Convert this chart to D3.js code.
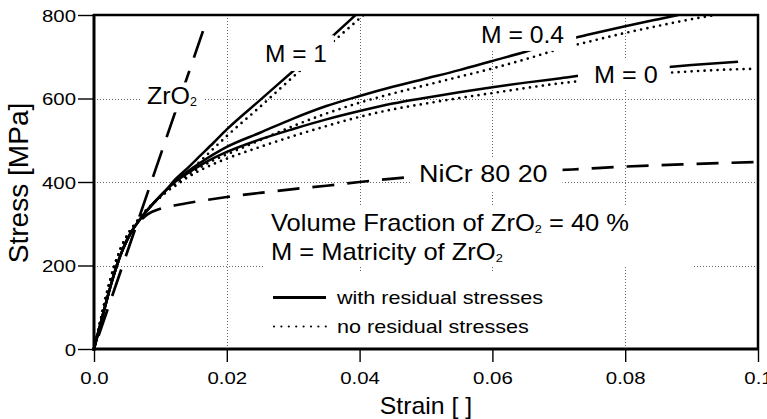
<!DOCTYPE html>
<html><head><meta charset="utf-8">
<script src="https://cdn.jsdelivr.net/npm/d3@7"></script>
<style>
body{margin:0;background:#fff}
svg{display:block}
text{font-family:"Liberation Sans",Arial,Helvetica,sans-serif;fill:#000}
</style>
</head><body>
<svg id="chart" width="767" height="419"></svg>
<script>
// ---------- data ----------
const xTicks = [0, 0.02, 0.04, 0.06, 0.08, 0.1];
const xTickLabels = ["0.0", "0.02", "0.04", "0.06", "0.08", "0.1"];
const yTicks = [0, 200, 400, 600, 800];
const yTickLabels = ["0", "200", "400", "600", "800"];
const xGrid = [0.02, 0.04, 0.06, 0.08];
const yGrid = [200, 400, 600];

// shared elastic range of the composite curves
const elasticStrain = [0, 0.001, 0.002, 0.003, 0.004, 0.005, 0.006, 0.007, 0.008, 0.009, 0.010, 0.011];
const elasticWith   = [0, 62, 122, 178, 225, 262, 290, 312, 332, 350, 367, 383];
const elasticNo     = [0, 70, 138, 196, 240, 272, 296, 316, 334, 350, 364, 378];

// M = 1
const m1WithStrain = [...elasticStrain, 0.012, 0.014, 0.016, 0.018, 0.02, 0.025, 0.03, 0.035, 0.0394];
const m1WithStress = [...elasticWith, 402, 432, 463, 494, 526, 596, 666, 736, 800];
const m1NoStrain   = [...elasticStrain, 0.012, 0.014, 0.016, 0.018, 0.02, 0.025, 0.03, 0.035, 0.0406];
const m1NoStress   = [...elasticNo, 392, 420, 450, 480, 510, 580, 652, 722, 800];

// M = 0.4
const m04WithStrain = [...elasticStrain, 0.012, 0.014, 0.016, 0.018, 0.02, 0.025, 0.03, 0.035, 0.04, 0.045, 0.05, 0.055, 0.06, 0.065, 0.07, 0.075, 0.08, 0.085, 0.088];
const m04WithStress = [...elasticWith, 398, 424, 446, 466, 484, 518, 552, 582, 606, 628, 648, 668, 690, 712, 736, 755, 773, 790, 800];
const m04NoStrain   = [...elasticStrain, 0.012, 0.014, 0.016, 0.018, 0.02, 0.025, 0.03, 0.035, 0.04, 0.045, 0.05, 0.055, 0.06, 0.065, 0.07, 0.075, 0.08, 0.085, 0.09, 0.0936];
const m04NoStress   = [...elasticNo, 392, 415, 435, 452, 466, 500, 534, 564, 590, 612, 632, 652, 672, 694, 718, 738, 757, 774, 790, 800];

// M = 0
const m0WithStrain = [...elasticStrain, 0.012, 0.014, 0.016, 0.018, 0.02, 0.025, 0.03, 0.035, 0.04, 0.045, 0.05, 0.055, 0.06, 0.065, 0.07, 0.075, 0.08, 0.085, 0.09, 0.097];
const m0WithStress = [...elasticWith, 398, 420, 440, 457, 472, 502, 527, 550, 570, 588, 602, 615, 627, 638, 648, 658, 666, 673, 680, 688];
const m0NoStrain   = [...elasticStrain, 0.012, 0.014, 0.016, 0.018, 0.02, 0.025, 0.03, 0.035, 0.04, 0.045, 0.05, 0.055, 0.06, 0.065, 0.07, 0.075, 0.08, 0.085, 0.09, 0.095, 0.099];
const m0NoStress   = [...elasticNo, 388, 410, 428, 443, 456, 484, 510, 534, 556, 574, 588, 601, 613, 625, 636, 645, 653, 660, 665, 669, 671];

// pure phases
const nicrStrain = [0, 0.001, 0.002, 0.003, 0.004, 0.005, 0.006, 0.007, 0.008, 0.01, 0.0125, 0.015, 0.02, 0.025, 0.03, 0.035, 0.04, 0.048, 0.06, 0.072, 0.08, 0.09, 0.1];
const nicrStress = [0, 62, 122, 178, 225, 262, 290, 308, 322, 336, 345, 352, 364, 374, 383, 391, 400, 412, 422, 430, 437, 443, 448];
const zro2Strain = [0, 0.0166];
const zro2Stress = [0, 770];

// ---------- layout ----------
const svg = d3.select("#chart");
const x = d3.scaleLinear().domain([0, 0.1]).range([94, 758]);
const y = d3.scaleLinear().domain([0, 800]).range([349, 15]);

const zip = (a, b) => a.map((v, i) => [v, b[i]]);
const line = d3.line().x(d => x(d[0])).y(d => y(d[1])).curve(d3.curveMonotoneX);

svg.append("defs").append("clipPath").attr("id", "plot")
  .append("rect").attr("x", 94).attr("y", 15).attr("width", 664).attr("height", 334);

// grid
const grid = svg.append("g").attr("stroke", "#666").attr("stroke-width", 1).attr("stroke-dasharray", "1 2");
grid.selectAll(".gx").data(xGrid).join("line")
  .attr("x1", d => Math.round(x(d)) + 0.5).attr("x2", d => Math.round(x(d)) + 0.5)
  .attr("y1", y(800)).attr("y2", y(0));
grid.selectAll(".gy").data(yGrid).join("line")
  .attr("y1", d => Math.round(y(d)) + 0.5).attr("y2", d => Math.round(y(d)) + 0.5)
  .attr("x1", x(0)).attr("x2", x(0.1));

// curves
const curves = svg.append("g").attr("clip-path", "url(#plot)").attr("fill", "none").attr("stroke", "#000");
const solid = s => s.attr("stroke-width", 2.5);
const dotted = s => s.attr("stroke-width", 2.7).attr("stroke-linecap", "round").attr("stroke-dasharray", "0 6.5");

curves.append("path").datum(zip(zro2Strain, zro2Stress)).attr("d", line)
  .attr("stroke-width", 2.7).attr("stroke-dasharray", "28 14").attr("stroke-dashoffset", 28);
curves.append("path").datum(zip(nicrStrain, nicrStress)).attr("d", line)
  .attr("stroke-width", 2.7).attr("stroke-dasharray", "22 13");

curves.append("path").datum(zip(m1WithStrain, m1WithStress)).attr("d", line).call(solid);
curves.append("path").datum(zip(m04WithStrain, m04WithStress)).attr("d", line).call(solid);
curves.append("path").datum(zip(m0WithStrain, m0WithStress)).attr("d", line).call(solid);
curves.append("path").datum(zip(m1NoStrain, m1NoStress)).attr("d", line).call(dotted);
curves.append("path").datum(zip(m04NoStrain, m04NoStress)).attr("d", line).call(dotted);
curves.append("path").datum(zip(m0NoStrain, m0NoStress)).attr("d", line).call(dotted);

// white panels behind the description and the legend
svg.append("rect").attr("x", 265).attr("y", 205).attr("width", 428).attr("height", 62).attr("fill", "#fff");
svg.append("rect").attr("x", 262).attr("y", 272).attr("width", 300).attr("height", 75).attr("fill", "#fff");

// text (slightly widened glyphs) with an optional small subscript "2"
function label(g, px, py, parts, size, sx, anchor) {
  const t = g.append("text").attr("font-size", size)
    .attr("text-anchor", anchor || "start")
    .attr("transform", `translate(${px},${py}) scale(${sx},1)`);
  parts.forEach(p => {
    if (p.sub) {
      t.append("tspan").text(p.sub).attr("font-size", size * 0.5).attr("dy", size * 0.1);
    } else {
      const ts = t.append("tspan").text(p.t);
      if (p.after) ts.attr("dy", -size * 0.1);
    }
  });
  return t;
}
// label on a white patch that interrupts the lines below it; pad = [left, right, top, bottom]
function boxedLabel(px, py, parts, size, sx, pad) {
  const g = svg.append("g");
  const bg = g.append("rect").attr("fill", "#fff");
  const t = label(g, px, py, parts, size, sx);
  const b = t.node().getBBox();
  bg.attr("x", px + b.x * sx - pad[0]).attr("y", py + b.y - pad[2])
    .attr("width", b.width * sx + pad[0] + pad[1]).attr("height", b.height + pad[2] + pad[3]);
}

boxedLabel(147, 104, [{t: "ZrO"}, {sub: "2"}], 24, 1.04, [5, 6, 0, 3]);
boxedLabel(265, 62, [{t: "M = 1"}], 24, 1.02, [4, 7, 5, 4]);
boxedLabel(481, 43, [{t: "M = 0.4"}], 24, 1.03, [6, 12, 1, 3]);
boxedLabel(594, 83, [{t: "M = 0"}], 24, 1.05, [16, 12, 2, 2]);
boxedLabel(419, 181.5, [{t: "NiCr 80 20"}], 23, 1.17, [7, 15, 3, 6]);

const info = svg.append("g");
label(info, 271, 230.5, [{t: "Volume Fraction of ZrO"}, {sub: "2"}, {t: " = 40 %", after: true}], 23, 1.11);
label(info, 271, 259.5, [{t: "M = Matricity of ZrO"}, {sub: "2"}], 23, 1.11);

// legend
const lg = svg.append("g");
lg.append("line").attr("x1", 273).attr("x2", 326).attr("y1", 297.5).attr("y2", 297.5)
  .attr("stroke", "#000").attr("stroke-width", 2.8);
lg.append("line").attr("x1", 274).attr("x2", 326).attr("y1", 326.5).attr("y2", 326.5)
  .attr("stroke", "#000").attr("stroke-width", 2.2).attr("stroke-linecap", "round").attr("stroke-dasharray", "0 7.4");
label(lg, 337, 303.5, [{t: "with residual stresses"}], 18.6, 1.16);
label(lg, 337, 332.5, [{t: "no residual stresses"}], 18.6, 1.16);

// axes frame and ticks
const frame = svg.append("g").attr("stroke", "#000").attr("fill", "none");
frame.append("line").attr("x1", 93).attr("x2", 759).attr("y1", y(800)).attr("y2", y(800)).attr("stroke-width", 2.5);
frame.append("line").attr("x1", x(0.1)).attr("x2", x(0.1)).attr("y1", 14).attr("y2", 350).attr("stroke-width", 2.5);
frame.append("line").attr("x1", x(0)).attr("x2", x(0)).attr("y1", 14).attr("y2", 351).attr("stroke-width", 3);
frame.append("line").attr("x1", 92).attr("x2", 759).attr("y1", y(0)).attr("y2", y(0)).attr("stroke-width", 3);

const xAxis = d3.axisBottom(x).tickValues(xTicks).tickSize(12).tickFormat((d, i) => xTickLabels[i]);
const gx = svg.append("g").attr("transform", `translate(0,${y(0) + 1})`).call(xAxis);
gx.select(".domain").remove();
gx.selectAll(".tick line").attr("stroke", "#000").attr("stroke-width", 1.4);
gx.selectAll(".tick text").attr("font-size", 17).attr("font-family", null)
  .attr("y", null).attr("dy", null).attr("transform", "translate(0,34) scale(1.2,1)");

const yAxis = d3.axisLeft(y).tickValues(yTicks).tickSize(15).tickFormat((d, i) => yTickLabels[i]);
const gy = svg.append("g").attr("transform", `translate(${x(0) - 1},0)`).call(yAxis);
gy.select(".domain").remove();
gy.selectAll(".tick line").attr("stroke", "#000").attr("stroke-width", 1.4);
gy.selectAll(".tick text").attr("font-size", 17).attr("font-family", null)
  .attr("x", null).attr("dy", null).attr("transform", "translate(-17,6) scale(1.2,1)");

// axis titles
svg.append("text").attr("transform", "translate(426,414) scale(1.08,1)").attr("text-anchor", "middle")
  .attr("font-size", 23).text("Strain [ ]");
svg.append("text").attr("transform", "translate(28,183) rotate(-90) scale(1.04,1)").attr("text-anchor", "middle")
  .attr("font-size", 27).text("Stress [MPa]");
</script>
</body></html>
